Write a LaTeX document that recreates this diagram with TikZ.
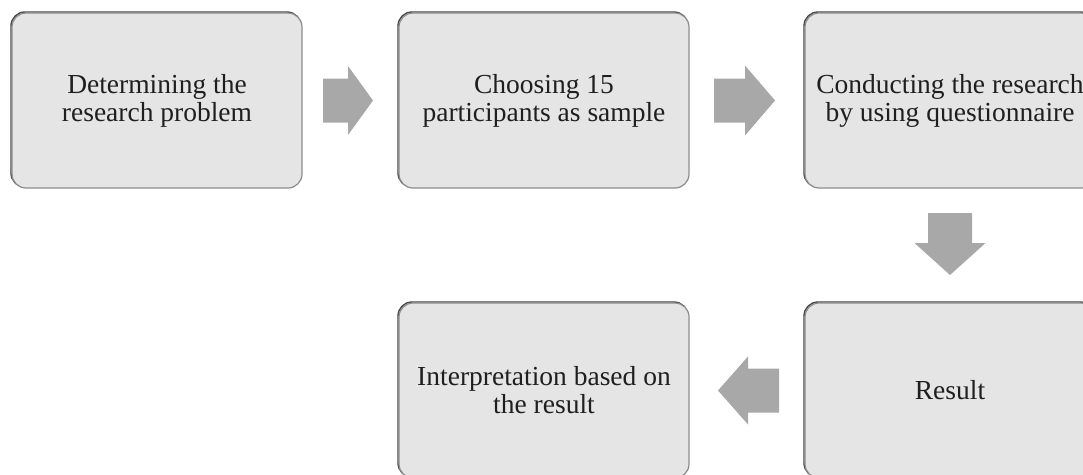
\documentclass[tikz,border=0pt]{standalone}
\usepackage{fontspec}
\setmainfont{Liberation Serif}
\usetikzlibrary{calc}
\definecolor{boxfill}{RGB}{229,229,229}
\definecolor{boxedge}{RGB}{140,140,140}
\definecolor{boxdark}{RGB}{70,70,70}
\definecolor{arrowgray}{RGB}{168,168,168}
\tikzset{
  stepbox/.style={rectangle, rounded corners=14pt, fill=boxfill, draw=boxedge,
    line width=1.2pt, minimum width=290pt, minimum height=175pt, inner sep=0pt,
    align=center, font=\fontsize{27.5}{28}\selectfont, text=black!88,
    preaction={draw=boxdark, line width=1.4pt, transform canvas={shift={(-1pt,1pt)}}}},
  blockarrow/.style={fill=arrowgray, draw=none}
}
\begin{document}
\begin{tikzpicture}[x=1pt,y=-1pt]
\useasboundingbox (0,0) rectangle (1083,474);
\fill[white] (0,0) rectangle (1083,474);
\clip (0,0) rectangle (1083,474);
\node[stepbox] (b1) at (157,100.5) {Determining the\\research problem};
\node[stepbox] (b2) at (544,100.5) {Choosing 15\\participants as sample};
\node[stepbox] (b3) at (950,100.5) {Conducting the research\\by using questionnaire};
\node[stepbox] (b4) at (544,390.5) {Interpretation based on\\the result};
\node[stepbox] (b5) at (950,390.5) {Result};
\coordinate (m1) at ($(b1.east)!0.5!(b2.west)$);
\coordinate (m2) at ($(b2.east)!0.5!(b3.west)$);
\coordinate (m3) at ($(b5.west)!0.5!(b4.east)$);
\coordinate (m4) at ($(b3.south)!0.5!(b5.north)$);
% arrow b1 -> b2
\fill[blockarrow] ($(m1)+(-27.5,-22)$) -- ($(m1)+(-2.5,-22)$) -- ($(m1)+(-2.5,-34.5)$)
  -- ($(m1)+(22.5,0)$) -- ($(m1)+(-2.5,34.5)$) -- ($(m1)+(-2.5,22)$) -- ($(m1)+(-27.5,22)$) -- cycle;
% arrow b2 -> b3
\fill[blockarrow] ($(m2)+(-33,-22)$) -- ($(m2)+(-2,-22)$) -- ($(m2)+(-2,-35)$)
  -- ($(m2)+(28,0)$) -- ($(m2)+(-2,35)$) -- ($(m2)+(-2,22)$) -- ($(m2)+(-33,22)$) -- cycle;
% arrow b3 -> b5
\fill[blockarrow] ($(m4)+(-22,-32.5)$) -- ($(m4)+(-22,-2.5)$) -- ($(m4)+(-35.5,-2.5)$)
  -- ($(m4)+(0,29.5)$) -- ($(m4)+(35.5,-2.5)$) -- ($(m4)+(22,-2.5)$) -- ($(m4)+(22,-32.5)$) -- cycle;
% arrow b5 -> b4
\fill[blockarrow] ($(m3)+(32,-22)$) -- ($(m3)+(1,-22)$) -- ($(m3)+(1,-34)$)
  -- ($(m3)+(-29,0)$) -- ($(m3)+(1,34)$) -- ($(m3)+(1,22)$) -- ($(m3)+(32,22)$) -- cycle;
\end{tikzpicture}
\end{document}
